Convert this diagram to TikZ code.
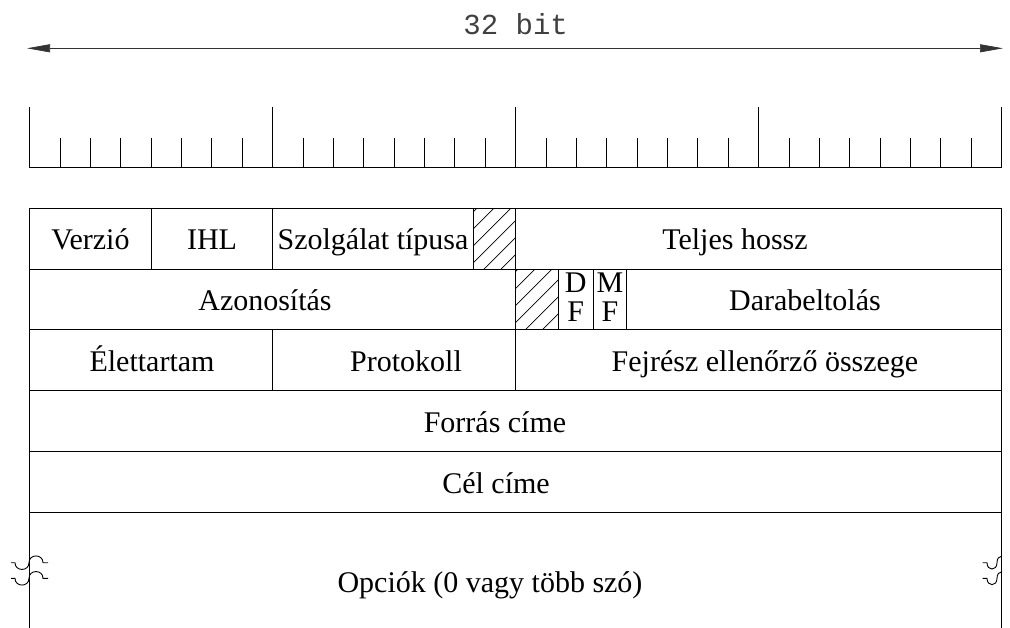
\documentclass[tikz,border=0pt]{standalone}
\usepackage{fontspec}
\setmainfont{Liberation Serif}
\newfontfamily\rulerfont{Liberation Mono}
\usetikzlibrary{arrows.meta}
\begin{document}
\begin{tikzpicture}[x=1pt,y=-1pt,
  field/.style={anchor=base, inner sep=0pt, font=\fontsize{30}{30}\selectfont},
  rule/.style={line width=1pt, black},
  hatchline/.style={line width=0.8pt, black},
  breakline/.style={line width=0.9pt, black},
  dimline/.style={line width=0.7pt, black!80,
    {Triangle[length=23pt,width=8pt]}-{Triangle[length=23pt,width=8pt]}}]
\useasboundingbox (0,0) rectangle (1010,628);

% overall width arrow
\coordinate (aL) at (27,48.3);
\coordinate (aR) at (1003,48.3);
\draw[dimline] (aL) -- (aR);
\node[anchor=base, inner sep=0pt, text=black!75,
      font=\rulerfont\fontsize{29}{29}\selectfont] (title) at (515.7,35) {32 bit};

% bit ruler
\draw[rule] (29.7,168) -- (1001.7,168);
\foreach \i in {0,8,16,24,32}
  \draw[rule] ({29.7+30.375*\i},107) -- ({29.7+30.375*\i},168);
\foreach \i in {1,...,7,9,10,...,15,17,18,...,23,25,26,...,31}
  \draw[rule] ({29.7+30.375*\i},138) -- ({29.7+30.375*\i},168);

% header rows
\foreach \y in {208.3,269.1,329.9,390.7,451.5,512.3}
  \draw[rule] (29.7,\y) -- (1001.7,\y);
\draw[rule] (29.7,208.3) -- (29.7,628);
\draw[rule] (1001.7,208.3) -- (1001.7,628);
\foreach \x in {151.2,272.7,473.3,515.7}
  \draw[rule] (\x,208.3) -- (\x,269.1);
\foreach \x in {515.7,558.3,593.3,626.7}
  \draw[rule] (\x,269.1) -- (\x,329.9);
\foreach \x in {272.7,515.7}
  \draw[rule] (\x,329.9) -- (\x,390.7);

% unused bits
\begin{scope}
  \clip (473.3,208.3) rectangle (515.7,269.1);
  \foreach \k in {0,...,14}
    \draw[hatchline] ({668.1+17*\k-200},200) -- ({668.1+17*\k-340},340);
\end{scope}
\begin{scope}
  \clip (515.7,269.1) rectangle (558.3,329.9);
  \foreach \k in {0,...,14}
    \draw[hatchline] ({668.1+17*\k-200},200) -- ({668.1+17*\k-340},340);
\end{scope}

% break marks on the option field
\foreach \y in {562.7,578.3} {
  \draw[breakline] (11,\y) -- (15,\y)
    .. controls (15,\y+9) and (29,\y+9) .. (29,\y)
    .. controls (29,\y-9) and (43,\y-9) .. (43,\y) -- (48,\y);
  \draw[breakline] (982.5,\y) -- (987,\y)
    .. controls (987,\y+8.5) and (997,\y+8.5) .. (997,\y)
    .. controls (997,\y-4) and (999,\y-6.5) .. (1001.7,\y-6.5);
}

% field labels
\node[field] (ver) at (90.4,250) {Verzió};
\node[field] (ihl) at (212,250) {IHL};
\node[field] (tos) at (373,250) {Szolgálat típusa};
\node[field] (len) at (735,250) {Teljes hossz};
\node[field] (id) at (265,310.8) {Azonosítás};
\node[field] (d1) at (575.8,293) {D};
\node[field] (f1) at (575.8,322) {F};
\node[field] (m2) at (610,293) {M};
\node[field] (f2) at (610,322) {F};
\node[field] (off) at (805,310.8) {Darabeltolás};
\node[field] (ttl) at (152,371.6) {Élettartam};
\node[field] (prot) at (406,371.6) {Protokoll};
\node[field] (sum) at (765,371.6) {Fejrész ellenőrző összege};
\node[field] (src) at (495,432.4) {Forrás címe};
\node[field] (dst) at (496,493.2) {Cél címe};
\node[field] (opt) at (490,592) {Opciók (0 vagy több szó)};
\end{tikzpicture}
\end{document}
